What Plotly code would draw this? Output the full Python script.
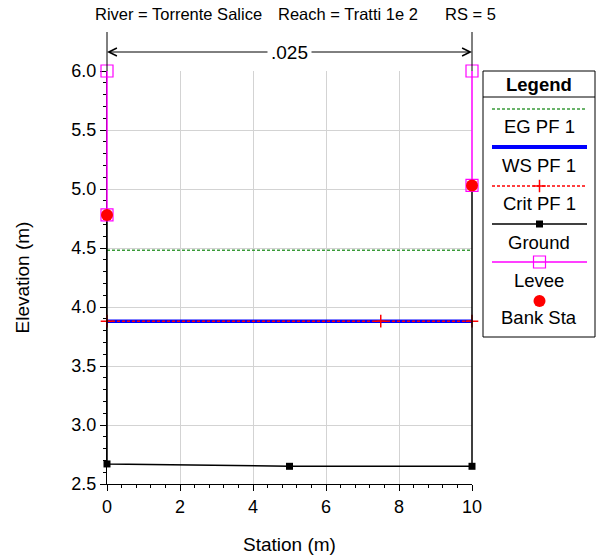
import plotly.graph_objects as go

# ---------------- data ----------------
ground_station = [0, 0, 5, 10, 10]
ground_elev = [4.78, 2.67, 2.65, 2.65, 5.03]
ws_station = [0, 10]
ws_elev = [3.88, 3.88]
eg_station = [0, 10]
eg_elev = [4.48, 4.48]
crit_station = [0, 7.5, 10]
crit_elev = [3.88, 3.88, 3.88]
levee_station = [0, 0, None, 10, 10]
levee_elev = [6.0, 4.78, None, 6.0, 5.03]
bank_station = [0, 10]
bank_elev = [4.78, 5.03]
manning_n = ".025"
legend_labels = ["EG PF 1", "WS PF 1", "Crit PF 1", "Ground", "Levee", "Bank Sta"]
title_parts = ["River = Torrente Salice", "Reach = Tratti 1e 2", "RS = 5"]

# ---------------- layout geometry (window pixels) ----------------
W, H = 596, 557
PL, PR, PT, PB = 107, 472, 71, 484  # plot area in pixels
XR = [0, 10]
YR = [2.5, 6.0]
FONT = "Liberation Sans, Arial, sans-serif"

def sx(v):
    return PL + (v - XR[0]) / (XR[1] - XR[0]) * (PR - PL)

# data axes (x3/y3) share the visible axes' scale but have a few pixels of
# extra room so that lines lying exactly on the plot edges are not clipped
PAD = 6
kx = (XR[1] - XR[0]) / (PR - PL)
ky = (YR[1] - YR[0]) / (PB - PT)
XR3 = [XR[0] - PAD * kx, XR[1] + PAD * kx]
YR3 = [YR[0] - PAD * ky, YR[1] + PAD * ky]

GREEN = "#3a9a3a"
BLUE = "#0000ff"
RED = "#ff0000"
MAG = "#ff00ff"

fig = go.Figure()
edge_ax = dict(xaxis="x3", yaxis="y3", cliponaxis=False)

fig.add_trace(go.Scatter(x=eg_station, y=eg_elev, mode="lines",
                         line=dict(color=GREEN, width=1.5, dash="3px,2px"), name="EG PF 1"))
fig.add_trace(go.Scatter(x=ws_station, y=ws_elev, mode="lines",
                         line=dict(color=BLUE, width=3.5), name="WS PF 1"))
fig.add_trace(go.Scatter(x=crit_station, y=crit_elev, mode="lines+markers",
                         line=dict(color=RED, width=1.5, dash="3px,2px"),
                         marker=dict(symbol="cross-thin", size=9, line=dict(color=RED, width=1.5)),
                         cliponaxis=False, name="Crit PF 1"))
fig.add_trace(go.Scatter(x=ground_station, y=ground_elev, mode="lines+markers",
                         line=dict(color="black", width=1.5),
                         marker=dict(symbol="square", size=7, color="black"),
                         name="Ground", **edge_ax))
fig.add_trace(go.Scatter(x=levee_station, y=levee_elev, mode="lines+markers",
                         line=dict(color=MAG, width=1.5),
                         marker=dict(symbol="square-open", size=12, color=MAG, line=dict(width=1.2)),
                         connectgaps=False, name="Levee", **edge_ax))
fig.add_trace(go.Scatter(x=bank_station, y=bank_elev, mode="markers",
                         marker=dict(symbol="circle", size=12, color=RED),
                         name="Bank Sta", **edge_ax))

# ---------------- overlay legend (pixel axes) ----------------
leg_x0, leg_x1 = 483, 595
leg_y0, leg_y1 = 71, 337
sample_x = [492, 539.5, 587]
sample_y = [109, 147, 186, 224, 262, 301]
label_y = [126, 165, 203, 242, 280, 317]

common = dict(xaxis="x2", yaxis="y2", showlegend=False, hoverinfo="skip", cliponaxis=False)
fig.add_trace(go.Scatter(x=[sample_x[0], sample_x[2]], y=[sample_y[0]] * 2, mode="lines",
                         line=dict(color=GREEN, width=1.5, dash="3px,2px"), **common))
fig.add_trace(go.Scatter(x=[sample_x[0], sample_x[2]], y=[sample_y[1]] * 2, mode="lines",
                         line=dict(color=BLUE, width=4), **common))
fig.add_trace(go.Scatter(x=[sample_x[0], sample_x[2]], y=[sample_y[2]] * 2, mode="lines",
                         line=dict(color=RED, width=1.5, dash="3px,2px"), **common))
fig.add_trace(go.Scatter(x=[sample_x[1]], y=[sample_y[2]], mode="markers",
                         marker=dict(symbol="cross-thin", size=9, line=dict(color=RED, width=1.5)), **common))
fig.add_trace(go.Scatter(x=[sample_x[0], sample_x[2]], y=[sample_y[3]] * 2, mode="lines",
                         line=dict(color="black", width=1.5), **common))
fig.add_trace(go.Scatter(x=[sample_x[1]], y=[sample_y[3]], mode="markers",
                         marker=dict(symbol="square", size=7, color="black"), **common))
fig.add_trace(go.Scatter(x=[sample_x[0], sample_x[2]], y=[sample_y[4]] * 2, mode="lines",
                         line=dict(color=MAG, width=1.5), **common))
fig.add_trace(go.Scatter(x=[sample_x[1]], y=[sample_y[4]], mode="markers",
                         marker=dict(symbol="square-open", size=12, color=MAG, line=dict(width=1.2)), **common))
fig.add_trace(go.Scatter(x=[sample_x[1]], y=[sample_y[5]], mode="markers",
                         marker=dict(symbol="circle", size=12, color=RED), **common))

shapes = [
    dict(type="rect", xref="x2", yref="y2", x0=leg_x0, x1=leg_x1, y0=leg_y0, y1=leg_y1,
         line=dict(color="black", width=1), fillcolor="rgba(0,0,0,0)", layer="below"),
    dict(type="line", xref="x2", yref="y2", x0=leg_x0, x1=leg_x1, y0=97, y1=97,
         line=dict(color="black", width=1)),
    # dimension extension lines
    dict(type="line", xref="x2", yref="y2", x0=sx(XR[0]), x1=sx(XR[0]), y0=32, y1=PT,
         line=dict(color="black", width=1)),
    dict(type="line", xref="x2", yref="y2", x0=sx(XR[1]), x1=sx(XR[1]), y0=32, y1=PT,
         line=dict(color="black", width=1)),
]

dim_y = 52
mid = (sx(XR[0]) + sx(XR[1])) / 2
annotations = []
for xe in (sx(XR[0]), sx(XR[1])):
    annotations.append(dict(xref="x2", yref="y2", axref="x2", ayref="y2", x=xe, y=dim_y,
                            ax=mid, ay=dim_y, text="", showarrow=True, arrowhead=5,
                            arrowsize=1.6, arrowwidth=1, arrowcolor="black", standoff=0,
                            startstandoff=0))
annotations.append(dict(xref="x2", yref="y2", x=mid, y=dim_y, text=manning_n, showarrow=False,
                        font=dict(family=FONT, size=19, color="black"), bgcolor="white",
                        borderpad=3))
for txt, xp in zip(title_parts, [93, 276, 443]):
    annotations.append(dict(xref="x2", yref="y2", x=xp, y=14, text=txt, showarrow=False,
                            xanchor="left", yanchor="middle",
                            font=dict(family=FONT, size=16.5, color="black")))
annotations.append(dict(xref="x2", yref="y2", x=(leg_x0 + leg_x1) / 2, y=84, text="<b>Legend</b>",
                        showarrow=False, font=dict(family=FONT, size=18.5, color="black")))
for txt, yp in zip(legend_labels, label_y):
    annotations.append(dict(xref="x2", yref="y2", x=(leg_x0 + leg_x1) / 2, y=yp, text=txt,
                            showarrow=False, font=dict(family=FONT, size=18.5, color="black")))
annotations.append(dict(xref="x2", yref="y2", x=(PL + PR) / 2, y=544, text="Station (m)",
                        showarrow=False, font=dict(family=FONT, size=19, color="black")))
annotations.append(dict(xref="x2", yref="y2", x=22, y=(PT + PB) / 2, text="Elevation (m)",
                        showarrow=False, textangle=-90, font=dict(family=FONT, size=19, color="black")))

axis_common = dict(visible=True, showline=True, linecolor="black", linewidth=1, ticks="outside",
                   ticklen=6, tickcolor="black", tickwidth=1, showgrid=True, gridcolor="#d3d3d3",
                   gridwidth=1, zeroline=False, automargin=False, layer="below traces",
                   fixedrange=True, tickfont=dict(family=FONT, size=18, color="black"))

fig.update_layout(
    template="none",
    width=W, height=H,
    margin=dict(l=0, r=0, t=0, b=0, pad=0),
    paper_bgcolor="white", plot_bgcolor="rgba(0,0,0,0)",
    showlegend=False,
    font=dict(family=FONT, size=18, color="black"),
    xaxis=dict(domain=[PL / W, PR / W], range=XR, tick0=0, dtick=2, anchor="y",
               minor=dict(dtick=0.4, tick0=0, ticklen=3, ticks="outside", tickcolor="black",
                          showgrid=False), **axis_common),
    yaxis=dict(domain=[1 - PB / H, 1 - PT / H], range=YR, tick0=2.5, dtick=0.5, tickformat=".1f",
               anchor="x",
               minor=dict(dtick=0.1, tick0=2.5, ticklen=3, ticks="outside", tickcolor="black",
                          showgrid=False), **axis_common),
    xaxis2=dict(domain=[0, 1], range=[0, W], visible=False, fixedrange=True, anchor="y2"),
    yaxis2=dict(domain=[0, 1], range=[H, 0], visible=False, fixedrange=True, anchor="x2"),
    xaxis3=dict(domain=[(PL - PAD) / W, (PR + PAD) / W], range=XR3, visible=False,
                fixedrange=True, anchor="y3"),
    yaxis3=dict(domain=[1 - (PB + PAD) / H, 1 - (PT - PAD) / H], range=YR3, visible=False,
                fixedrange=True, anchor="x3"),
    shapes=shapes,
    annotations=annotations,
)

# the page's default 8px body margin would shift the figure; remove it
fig.write_html("out.html", config={"displayModeBar": False},
               post_script="document.body.style.margin='0';")
